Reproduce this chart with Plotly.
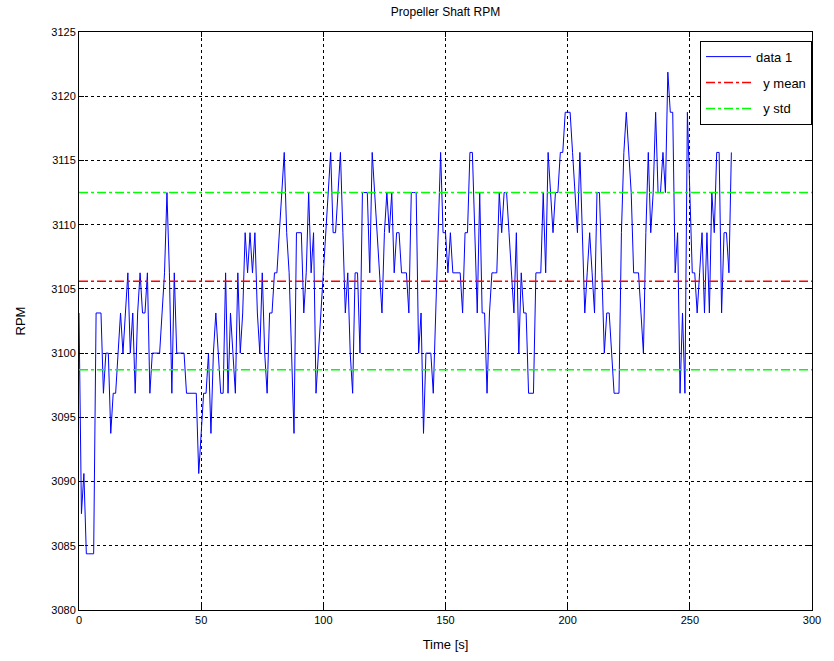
import numpy as np
import plotly.graph_objects as go

# RPM samples (quantized levels), 1 sample per second
rpm_levels = [1, -4, -3, -5, -5, -5, -5, 1, 1, 1, -1, 0, 0, -2, -1, -1, 0, 1, 0, 1,
              2, 0, 1, -1, 1, 2, 1, 1, 2, -1, 0, 0, 0, 0, 1, 2, 4, 2, -1, 2,
              0, 0, 0, 0, -1, -1, -1, -1, -1, -3, -2, -1, -1, 0, -2, 0, 1, 0, -1, -1,
              2, -1, 1, 0, -1, 2, 0, 1, 3, 2, 3, 2, 3, 1, 0, 2, 0, -1, 1, 1,
              2, 2, 3, 4, 5, 3, 2, 0, -2, 3, 3, 3, 1, 2, 4, 2, 3, -1, 0, 1,
              2, 3, 4, 5, 3, 3, 4, 5, 3, 1, 2, 0, -1, 2, 2, 0, 4, 4, 4, 2,
              5, 4, 3, 2, 1, 3, 4, 3, 4, 2, 3, 3, 2, 2, 2, 1, 4, 4, 4, 0,
              1, -2, 0, 0, 0, -1, 1, 3, 5, 3, 3, 2, 3, 2, 2, 2, 2, 1, 3, 3,
              5, 5, 3, 1, 4, 1, 1, -1, 1, 2, 2, 2, 4, 3, 4, 4, 3, 2, 1, 3,
              0, 2, 1, 1, -1, -1, -1, 2, 2, 2, 4, 2, 5, 4, 3, 4, 4, 5, 5, 6,
              6, 6, 5, 4, 3, 5, 3, 1, 2, 3, 2, 1, 4, 4, 2, 0, 1, 1, 0, -1,
              -1, -1, 3, 5, 6, 5, 4, 2, 2, 2, 1, 0, 3, 5, 3, 4, 6, 4, 4, 5,
              4, 7, 6, 6, 2, 3, -1, 1, -1, 6, 4, 2, 2, 1, 2, 3, 1, 3, 1, 4,
              3, 5, 5, 1, 3, 3, 2, 5]
RPM_BASE = 3100.0
RPM_STEP = 3.125
rpm = [RPM_BASE + RPM_STEP * k for k in rpm_levels]
time_s = list(range(len(rpm)))

Y_MEAN = 3105.6
Y_STD = 6.9

x_ticks = [0, 50, 100, 150, 200, 250, 300]
y_ticks = [3080, 3085, 3090, 3095, 3100, 3105, 3110, 3115, 3120, 3125]

FONT = "Liberation Sans, Arial, Helvetica, sans-serif"

fig = go.Figure()
fig.add_trace(go.Scatter(x=time_s, y=rpm, mode="lines", name="data 1", legendgroup="d",
                         line=dict(color="#0000FF", width=1)))
fig.add_trace(go.Scatter(x=[0, 300], y=[Y_MEAN, Y_MEAN], mode="lines", name="  y mean",
                         legendgroup="m",
                         line=dict(color="#FF0000", width=1.5, dash="dashdot")))
fig.add_trace(go.Scatter(x=[0, 300], y=[Y_MEAN + Y_STD, Y_MEAN + Y_STD], mode="lines",
                         name="  y std", legendgroup="std",
                         line=dict(color="#00FF00", width=1.5, dash="dashdot")))
fig.add_trace(go.Scatter(x=[0, 300], y=[Y_MEAN - Y_STD, Y_MEAN - Y_STD], mode="lines",
                         name="  y std", legendgroup="std", showlegend=False,
                         line=dict(color="#00FF00", width=1.5, dash="dashdot")))

axis_common = dict(
    showline=True, linecolor="black", linewidth=1, mirror="ticks",
    ticks="inside", ticklen=5, tickcolor="black",
    showgrid=True, gridcolor="black", griddash="dot", gridwidth=1,
    zeroline=False, tickfont=dict(family=FONT, size=11, color="black"),
)

fig.update_layout(
    width=834, height=661,
    margin=dict(l=79, r=22, t=32, b=49),
    paper_bgcolor="white", plot_bgcolor="white",
    title=dict(text="Propeller Shaft RPM", x=0.5, xref="paper", xanchor="center",
               y=1 - 12 / 661, yanchor="middle",
               font=dict(family=FONT, size=12, color="black")),
    xaxis=dict(range=[0, 300], tickvals=x_ticks, ticktext=[str(v) for v in x_ticks],
               title=dict(text="Time [s]", font=dict(family=FONT, size=13, color="black"),
                          standoff=14),
               **axis_common),
    yaxis=dict(range=[3080, 3125], tickvals=y_ticks, ticktext=[str(v) for v in y_ticks],
               title=dict(text="RPM", font=dict(family=FONT, size=13, color="black"),
                          standoff=22),
               **axis_common),
    legend=dict(x=1.0, y=0.985, xanchor="right", yanchor="top",
                bgcolor="white", bordercolor="black", borderwidth=1,
                font=dict(family=FONT, size=13, color="black"),
                itemwidth=45, tracegroupgap=6),
    showlegend=True,
)

fig.write_html("out.html")
